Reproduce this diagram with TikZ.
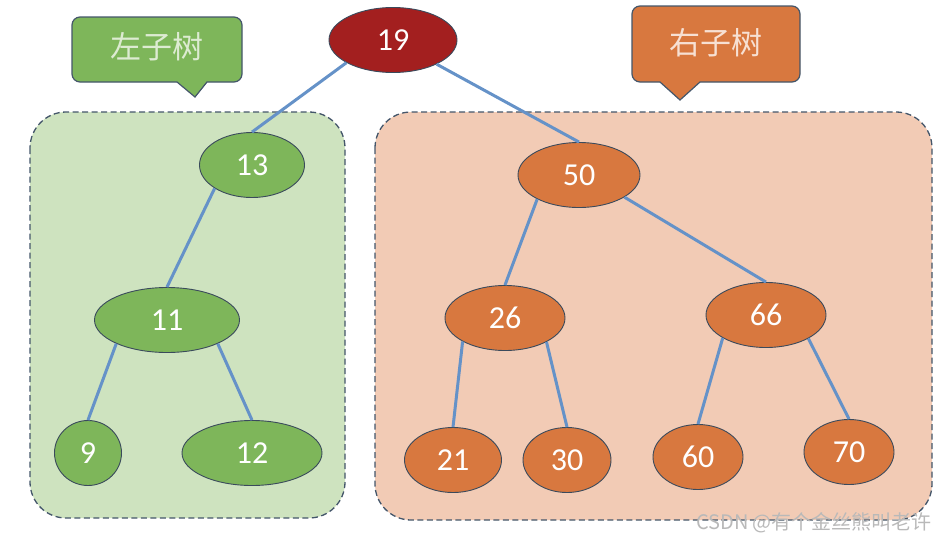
\documentclass[tikz,border=0pt]{standalone}
\usepackage{fontspec}
\setmainfont{Carlito}
\newfontfamily\cjk{Noto Sans CJK SC}
\usetikzlibrary{shapes.geometric}
\definecolor{leftbg}{HTML}{CEE3BF}
\definecolor{rightbg}{HTML}{F2CBB5}
\definecolor{leafgreen}{HTML}{7EB65A}
\definecolor{leaforange}{HTML}{D8783F}
\definecolor{rootred}{HTML}{A31F1F}
\definecolor{edgeblue}{HTML}{6592C8}
\definecolor{nodeline}{HTML}{3A4A5C}
\definecolor{boxline}{HTML}{44566A}
\begin{document}
\begin{tikzpicture}[x=1pt,y=-1pt,
  tree node/.style={ellipse,draw=nodeline,line width=0.9pt,inner sep=0pt,
    minimum height=65pt,text=white,font=\fontsize{32}{34}\selectfont},
  green node/.style={tree node,fill=leafgreen},
  orange node/.style={tree node,fill=leaforange},
  tree edge/.style={draw=edgeblue,line width=3pt},
  group box/.style={draw=boxline,dash pattern=on 6pt off 3.5pt,line width=1.3pt,rounded corners=36pt},
  callout box/.style={draw=boxline,line width=1.2pt},
  label text/.style={font=\cjk\fontsize{31}{34}\selectfont}]

  \useasboundingbox (0,0) rectangle (946,544);

  \draw[group box,fill=leftbg] (30,112) rectangle (345,518);
  \draw[group box,fill=rightbg] (375,112) rectangle (932,520);

  \draw[callout box,fill=leafgreen] (195,97) -- (177,82) [rounded corners=8pt] -- (72,82)
    -- (72,17) -- (242,17) -- (242,82) [sharp corners] -- (207,82) -- cycle;
  \node[label text,text=leftbg!70!white] (left label) at (157,47) {左子树};
  \draw[callout box,fill=leaforange] (680,100) -- (660,82) [rounded corners=8pt] -- (632,82)
    -- (632,6) -- (800,6) -- (800,82) [sharp corners] -- (700,82) -- cycle;
  \node[label text,text=rightbg!60!white] (right label) at (716,43) {右子树};

  \node[tree node,fill=rootred,minimum width=128pt] (19) at (393,40) {19};
  \node[green node,minimum width=105pt] (13) at (252,165) {13};
  \node[green node,minimum width=145pt] (11) at (167,320) {11};
  \node[green node,minimum width=67pt] (9) at (88,453) {9};
  \node[green node,minimum width=140pt] (12) at (252,453) {12};
  \node[orange node,minimum width=122pt] (50) at (579,175) {50};
  \node[orange node,minimum width=120pt] (26) at (505,318) {26};
  \node[orange node,minimum width=120pt] (66) at (766,315) {66};
  \node[orange node,minimum width=97pt] (21) at (453,460) {21};
  \node[orange node,minimum width=88pt] (30) at (567,460) {30};
  \node[orange node,minimum width=90pt] (60) at (698,457) {60};
  \node[orange node,minimum width=90pt] (70) at (849,452) {70};

  \path[tree edge]
    (19.206) edge (13.north)
    (19.331) edge (50.north)
    (13.212) edge (11.north)
    (11.205) edge (9.north)
    (11.335) edge (12.north)
    (50.210) edge (26.north)
    (50.334) edge (66.north)
    (26.209) edge (21.north)
    (26.330) edge (30.north)
    (66.208) edge (60.north)
    (66.331) edge (70.north);

  \node[font=\cjk\fontsize{20}{22}\selectfont,text=gray!55] (mark) at (814,523) {CSDN @有个金丝熊叫老许};
\end{tikzpicture}
\end{document}
